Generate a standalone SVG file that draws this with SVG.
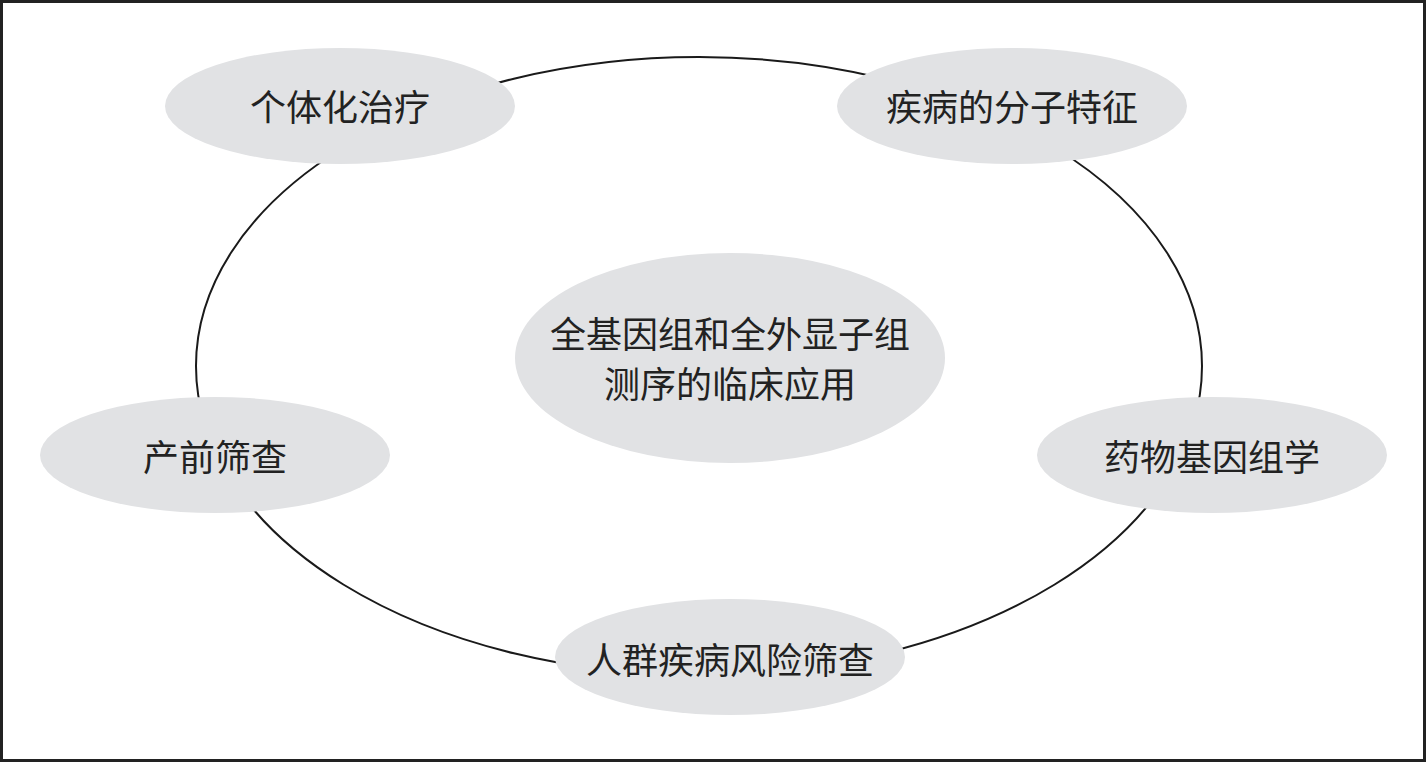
<svg xmlns="http://www.w3.org/2000/svg" width="1427" height="763" viewBox="0 0 1427 763">
<style>
.node{fill:#e1e2e4;stroke:none}
.lbl{font-family:"Noto Sans CJK SC","Noto Sans CJK JP",sans-serif;font-size:36px;fill:#222;text-anchor:middle;dominant-baseline:central}
.conn{fill:none;stroke:#1a1a1a;stroke-width:2}
</style>
<rect x="1.5" y="1.5" width="1423" height="759" fill="#fff" stroke="#222" stroke-width="3"/>
<g id="connectors">
<ellipse class="conn" cx="699" cy="366" rx="503" ry="309"/>
</g>
<g id="center">
<ellipse class="node" cx="730" cy="358" rx="215" ry="105"/>
<text class="lbl" x="730" y="332">全基因组和全外显子组</text>
<text class="lbl" x="730" y="382">测序的临床应用</text>
</g>
<g id="n1">
<ellipse class="node" cx="340" cy="106" rx="175" ry="58"/>
<text class="lbl" x="340" y="105">个体化治疗</text>
</g>
<g id="n2">
<ellipse class="node" cx="1012" cy="106" rx="175" ry="58"/>
<text class="lbl" x="1012" y="105">疾病的分子特征</text>
</g>
<g id="n3">
<ellipse class="node" cx="215" cy="455" rx="175" ry="58"/>
<text class="lbl" x="215" y="455">产前筛查</text>
</g>
<g id="n4">
<ellipse class="node" cx="1212" cy="455" rx="175" ry="58"/>
<text class="lbl" x="1212" y="455">药物基因组学</text>
</g>
<g id="n5">
<ellipse class="node" cx="730" cy="657" rx="175" ry="58"/>
<text class="lbl" x="730" y="658">人群疾病风险筛查</text>
</g>
</svg>
